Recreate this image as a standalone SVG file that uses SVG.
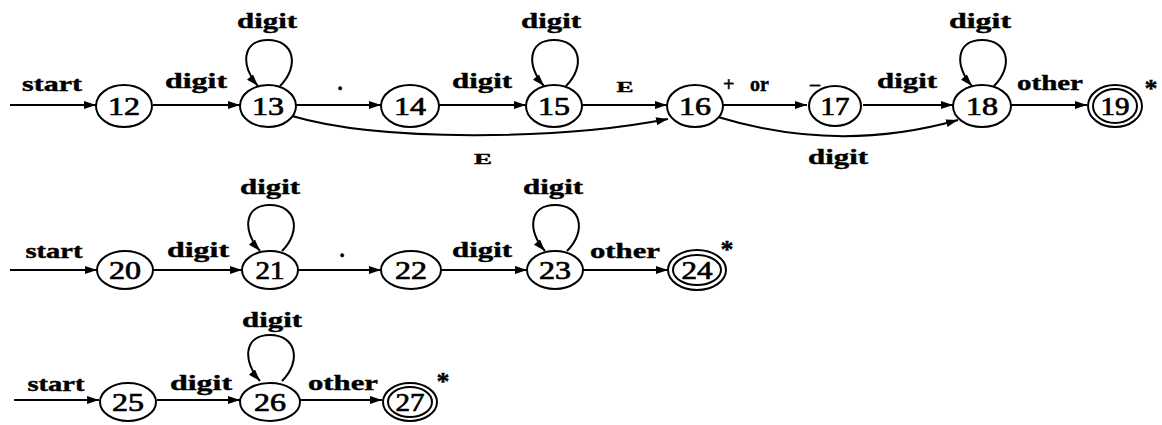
<svg xmlns="http://www.w3.org/2000/svg" width="1162" height="425" viewBox="0 0 1162 425">
<style>
.n{fill:#fff;stroke:#000;stroke-width:2}
.nt{font-family:"Liberation Serif",serif;font-size:25px;text-anchor:middle;fill:#000;stroke:#000;stroke-width:0.7}
.lb{font-family:"Liberation Serif",serif;font-weight:bold;font-size:21px;text-anchor:middle;fill:#000;stroke:#000;stroke-width:0.4}
.e{fill:none;stroke:#000;stroke-width:2;marker-end:url(#ah)}
</style>
<defs>
<marker id="ah" markerUnits="userSpaceOnUse" markerWidth="14" markerHeight="10" refX="12" refY="4" orient="auto">
<path d="M0,0 L12,4 L0,8 z" fill="#000"/>
</marker>
</defs>
<rect width="1162" height="425" fill="#fff"/>
<g id="connectors">
<path class="e" d="M10,105 L96,105"/>
<path class="e" d="M153,105 L240,105"/>
<path class="e" d="M296,105 L381,105"/>
<path class="e" d="M439,105 L526,105"/>
<path class="e" d="M582,105 L667,105"/>
<path class="e" d="M723,105 L807,105"/>
<path class="e" d="M863,105 L953,105"/>
<path class="e" d="M1011,105 L1087,105"/>
<path class="e" d="M292,116 C380,142 560,140 668,119"/>
<path class="e" d="M718,117 C800,142 880,142 958,120"/>
<path class="e" d="M280,86 C300,66 294,40 268,40 C242,40 240,66 258,86"/>
<path class="e" d="M566,86 C586,66 580,40 554,40 C528,40 526,66 544,86"/>
<path class="e" d="M994,86 C1014,66 1008,40 982,40 C956,40 954,66 972,86"/>
<path class="e" d="M10,270 L97,270"/>
<path class="e" d="M153,270 L242,270"/>
<path class="e" d="M298,270 L381,270"/>
<path class="e" d="M441,270 L527,270"/>
<path class="e" d="M583,270 L668,270"/>
<path class="e" d="M282,251 C302,231 296,205 270,205 C244,205 242,231 260,251"/>
<path class="e" d="M567,251 C587,231 581,205 555,205 C529,205 527,231 545,251"/>
<path class="e" d="M14,400 L99,400"/>
<path class="e" d="M157,400 L240,400"/>
<path class="e" d="M300,400 L382,400"/>
<path class="e" d="M282,381 C302,361 296,335 270,335 C244,335 242,361 260,381"/>
</g>
<g id="labels">
<text class="lb" x="52" y="91" textLength="60" lengthAdjust="spacingAndGlyphs">start</text>
<text class="lb" x="196" y="88" textLength="62" lengthAdjust="spacingAndGlyphs">digit</text>
<text class="lb" x="267" y="28" textLength="60" lengthAdjust="spacingAndGlyphs">digit</text>
<text class="lb" x="340" y="90">.</text>
<text class="lb" x="482" y="88" textLength="60" lengthAdjust="spacingAndGlyphs">digit</text>
<text class="lb" x="551" y="28" textLength="60" lengthAdjust="spacingAndGlyphs">digit</text>
<text class="lb" x="625" y="92" style="font-size:15px" textLength="17" lengthAdjust="spacingAndGlyphs">E</text>
<text class="lb" x="483" y="164" style="font-size:15px" textLength="18" lengthAdjust="spacingAndGlyphs">E</text>
<text class="lb" y="91" style="text-anchor:start;font-size:20px"><tspan x="723">+</tspan><tspan x="750">or</tspan><tspan x="810">–</tspan></text>
<text class="lb" x="907" y="88" textLength="60" lengthAdjust="spacingAndGlyphs">digit</text>
<text class="lb" x="980" y="28" textLength="62" lengthAdjust="spacingAndGlyphs">digit</text>
<text class="lb" x="1050" y="90" textLength="66" lengthAdjust="spacingAndGlyphs">other</text>
<text class="lb" x="838" y="164" textLength="60" lengthAdjust="spacingAndGlyphs">digit</text>
<text class="lb" x="1151" y="97" style="font-size:26px">*</text>
<text class="lb" x="54" y="258" textLength="57" lengthAdjust="spacingAndGlyphs">start</text>
<text class="lb" x="198" y="257" textLength="62" lengthAdjust="spacingAndGlyphs">digit</text>
<text class="lb" x="270" y="194" textLength="60" lengthAdjust="spacingAndGlyphs">digit</text>
<text class="lb" x="342" y="257">.</text>
<text class="lb" x="482" y="257" textLength="60" lengthAdjust="spacingAndGlyphs">digit</text>
<text class="lb" x="553" y="194" textLength="60" lengthAdjust="spacingAndGlyphs">digit</text>
<text class="lb" x="625" y="258" textLength="70" lengthAdjust="spacingAndGlyphs">other</text>
<text class="lb" x="727" y="258" style="font-size:26px">*</text>
<text class="lb" x="56" y="391" textLength="57" lengthAdjust="spacingAndGlyphs">start</text>
<text class="lb" x="201" y="390" textLength="62" lengthAdjust="spacingAndGlyphs">digit</text>
<text class="lb" x="272" y="327" textLength="60" lengthAdjust="spacingAndGlyphs">digit</text>
<text class="lb" x="343" y="390" textLength="70" lengthAdjust="spacingAndGlyphs">other</text>
<text class="lb" x="443" y="390" style="font-size:26px">*</text>
</g>
<g id="n12"><ellipse class="n" cx="124" cy="106" rx="28" ry="21"/><text class="nt" x="124" y="115" textLength="32" lengthAdjust="spacingAndGlyphs">12</text></g>
<g id="n13"><ellipse class="n" cx="268" cy="106" rx="28" ry="21"/><text class="nt" x="268" y="115" textLength="32" lengthAdjust="spacingAndGlyphs">13</text></g>
<g id="n14"><ellipse class="n" cx="410" cy="106" rx="29" ry="21"/><text class="nt" x="410" y="115" textLength="32" lengthAdjust="spacingAndGlyphs">14</text></g>
<g id="n15"><ellipse class="n" cx="554" cy="106" rx="28" ry="21"/><text class="nt" x="554" y="115" textLength="32" lengthAdjust="spacingAndGlyphs">15</text></g>
<g id="n16"><ellipse class="n" cx="695" cy="106" rx="28" ry="21"/><text class="nt" x="695" y="115" textLength="32" lengthAdjust="spacingAndGlyphs">16</text></g>
<g id="n17"><ellipse class="n" cx="835" cy="106" rx="26" ry="20"/><text class="nt" x="835" y="115" textLength="29" lengthAdjust="spacingAndGlyphs">17</text></g>
<g id="n18"><ellipse class="n" cx="982" cy="106" rx="29" ry="21"/><text class="nt" x="982" y="115" textLength="32" lengthAdjust="spacingAndGlyphs">18</text></g>
<g id="n19"><ellipse class="n" cx="1115" cy="106" rx="27" ry="21"/><ellipse class="n" cx="1115" cy="106" rx="22" ry="17"/><text class="nt" x="1115" y="115" textLength="29" lengthAdjust="spacingAndGlyphs">19</text></g>
<g id="n20"><ellipse class="n" cx="125" cy="270" rx="28" ry="19"/><text class="nt" x="125" y="279" textLength="32" lengthAdjust="spacingAndGlyphs">20</text></g>
<g id="n21"><ellipse class="n" cx="270" cy="270" rx="28" ry="19"/><text class="nt" x="270" y="279" textLength="29" lengthAdjust="spacingAndGlyphs">21</text></g>
<g id="n22"><ellipse class="n" cx="411" cy="270" rx="30" ry="19"/><text class="nt" x="411" y="279" textLength="32" lengthAdjust="spacingAndGlyphs">22</text></g>
<g id="n23"><ellipse class="n" cx="555" cy="270" rx="28" ry="19"/><text class="nt" x="555" y="279" textLength="32" lengthAdjust="spacingAndGlyphs">23</text></g>
<g id="n24"><ellipse class="n" cx="697" cy="270" rx="29" ry="20"/><ellipse class="n" cx="697" cy="270" rx="24" ry="15"/><text class="nt" x="697" y="279" textLength="31" lengthAdjust="spacingAndGlyphs">24</text></g>
<g id="n25"><ellipse class="n" cx="128" cy="402" rx="28" ry="19"/><text class="nt" x="128" y="411" textLength="32" lengthAdjust="spacingAndGlyphs">25</text></g>
<g id="n26"><ellipse class="n" cx="270" cy="402" rx="30" ry="19"/><text class="nt" x="270" y="411" textLength="32" lengthAdjust="spacingAndGlyphs">26</text></g>
<g id="n27"><ellipse class="n" cx="410" cy="402" rx="27" ry="19"/><ellipse class="n" cx="410" cy="402" rx="22" ry="15"/><text class="nt" x="410" y="411" textLength="29" lengthAdjust="spacingAndGlyphs">27</text></g>
</svg>
